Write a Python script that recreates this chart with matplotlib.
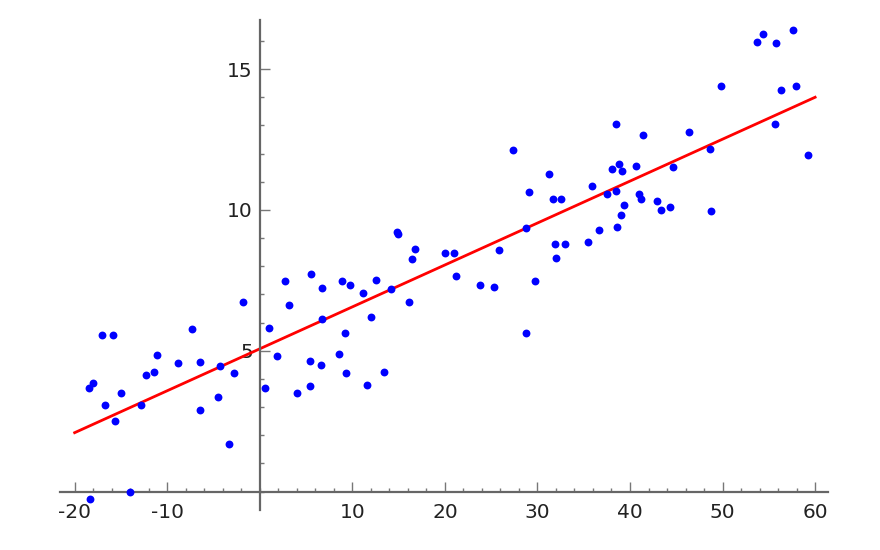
import matplotlib
matplotlib.use("Agg")
import matplotlib.pyplot as plt
import matplotlib.ticker as mticker
import numpy as np

# scatter points
x_vals = [-18.4, -18.0, -18.3, -17.0, -16.7, -15.9, -15.6, -15.0, -14.0, -12.8,
          -12.3, -11.4, -11.1, -8.8, -7.3, -6.5, -6.5, -4.5, -4.3, -3.3,
          -2.8, -1.8, 0.6, 1.0, 1.9, 2.7, 3.2, 4.0, 5.4, 5.4,
          5.5, 6.6, 6.7, 6.7, 8.6, 8.9, 9.2, 9.3, 9.7, 11.1,
          11.6, 12.0, 12.6, 13.4, 14.2, 14.8, 14.95, 16.1, 16.5, 16.8,
          20.0, 21.0, 21.2, 23.8, 25.3, 25.9, 27.4, 28.8, 28.8, 29.1,
          29.7, 31.2, 31.7, 31.9, 32.0, 32.5, 33.0, 35.5, 35.9, 36.7,
          37.5, 38.1, 38.5, 38.5, 38.6, 38.8, 39.0, 39.1, 39.3, 40.6,
          41.0, 41.2, 41.4, 42.9, 43.3, 44.3, 44.6, 46.4, 48.6, 48.7,
          49.8, 53.7, 54.4, 55.7, 55.8, 56.3, 57.6, 57.9, 59.2]
y_vals = [3.68, 3.84, -0.28, 5.56, 3.06, 5.56, 2.51, 3.50, 0.00, 3.09,
          4.15, 4.23, 4.85, 4.57, 5.77, 4.59, 2.90, 3.37, 4.45, 1.68,
          4.21, 6.73, 3.69, 5.79, 4.83, 7.49, 6.63, 3.51, 3.75, 4.62,
          7.73, 4.51, 7.23, 6.13, 4.89, 7.48, 5.63, 4.21, 7.32, 7.05,
          3.78, 6.21, 7.51, 4.23, 7.20, 9.23, 9.14, 6.74, 8.25, 8.62,
          8.46, 8.46, 7.64, 7.33, 7.27, 8.56, 12.13, 9.37, 5.63, 10.63,
          7.49, 11.28, 10.38, 8.79, 8.31, 10.39, 8.80, 8.87, 10.84, 9.27,
          10.58, 11.44, 10.67, 13.05, 9.40, 11.62, 9.82, 11.39, 10.17, 11.57,
          10.57, 10.40, 12.65, 10.32, 9.99, 10.12, 11.52, 12.78, 12.17, 9.95,
          14.41, 15.96, 16.23, 13.04, 15.93, 14.27, 16.40, 14.41, 11.94]

# regression line end points
line_x = [-20, 60]
line_y = [2.09, 14.0]

x_ticks = [-20, -10, 10, 20, 30, 40, 50, 60]
y_ticks = [5, 10, 15]

plt.rcParams["axes.unicode_minus"] = False

fig = plt.figure(figsize=(8.8, 5.5), dpi=100)
fig.patch.set_facecolor("white")
ax = fig.add_axes([0.068, 0.073, 0.873, 0.891])

ax.plot(line_x, line_y, color="#FF0000", linewidth=2.0, zorder=2)
ax.scatter(x_vals, y_vals, s=32, color="#0000FF", linewidths=0, zorder=3)

ax.set_xlim(-21.6, 61.4)
ax.set_ylim(-0.65, 16.75)

# Sage-style axes crossing at the origin
ax.spines["left"].set_position(("data", 0))
ax.spines["bottom"].set_position(("data", 0))
ax.spines["right"].set_visible(False)
ax.spines["top"].set_visible(False)
for s in ("left", "bottom"):
    ax.spines[s].set_color("#666666")
    ax.spines[s].set_linewidth(1.6)

ax.set_xticks(x_ticks)
ax.set_yticks(y_ticks)
ax.xaxis.set_minor_locator(mticker.MultipleLocator(2))
ax.yaxis.set_minor_locator(mticker.MultipleLocator(1))
ax.xaxis.set_major_formatter(mticker.FuncFormatter(lambda v, _: f"{v:.0f}"))
ax.yaxis.set_major_formatter(mticker.FuncFormatter(lambda v, _: f"{v:.0f}"))

ax.tick_params(which="both", direction="in", color="#777777", width=1.0,
               labelcolor="#222222")
ax.tick_params(which="major", length=7)
ax.tick_params(which="minor", length=3)
ax.tick_params(axis="x", which="major", labelsize=14.5, pad=8)
ax.tick_params(axis="y", which="major", labelsize=14.5, pad=5)

plt.savefig("out.png", dpi=100, facecolor="white")
